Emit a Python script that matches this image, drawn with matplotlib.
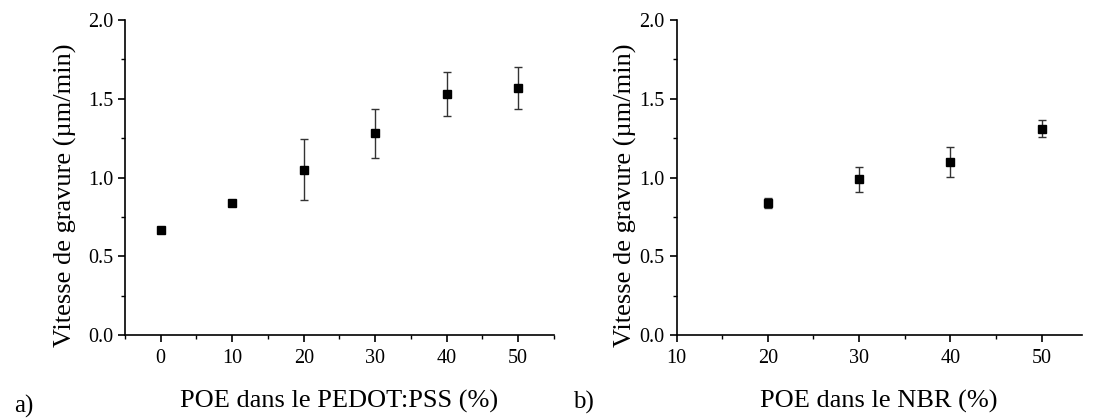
import matplotlib
matplotlib.use("Agg")
import matplotlib.pyplot as plt
from matplotlib.ticker import MultipleLocator

# panel a) POE in PEDOT:PSS
poe_pedot = [0, 10, 20, 30, 40, 50]
rate_pedot = [0.67, 0.84, 1.05, 1.28, 1.53, 1.57]
err_pedot = [0.0, 0.0, 0.195, 0.153, 0.14, 0.133]

# panel b) POE in NBR
poe_nbr = [20, 30, 40, 50]
rate_nbr = [0.838, 0.99, 1.10, 1.31]
err_nbr = [0.03, 0.08, 0.095, 0.055]

plt.rcParams['font.family'] = ['Liberation Serif', 'DejaVu Serif']

fig = plt.figure(figsize=(11.1, 4.19), dpi=100)
ax1 = fig.add_axes([0.1126, 0.2005, 0.3864, 0.7515])
ax2 = fig.add_axes([0.6096, 0.2005, 0.3649, 0.7515])


def style(ax, xlim, xlabel, ylab_x):
    ax.set_xlim(*xlim)
    ax.set_ylim(0, 2.0)
    ax.spines['top'].set_visible(False)
    ax.spines['right'].set_visible(False)
    for s in ('left', 'bottom'):
        ax.spines[s].set_linewidth(1.2)
    ax.xaxis.set_major_locator(MultipleLocator(10))
    ax.xaxis.set_minor_locator(MultipleLocator(5))
    ax.yaxis.set_major_locator(MultipleLocator(0.5))
    ax.yaxis.set_minor_locator(MultipleLocator(0.25))
    ax.yaxis.set_major_formatter(plt.FormatStrFormatter('%.1f'))
    ax.tick_params(which='major', direction='out', length=5, width=1.2, labelsize=14.5)
    ax.tick_params(axis='x', which='major', pad=5)
    ax.tick_params(which='minor', direction='out', length=3, width=1.0)
    ax.set_xlabel(xlabel, fontsize=19, labelpad=16)
    ax.set_ylabel('Vitesse de gravure (µm/min)', fontsize=19)
    # label sits a bit below the axis centre, as in the original
    ax.yaxis.set_label_coords(ylab_x, 0.445)


ax1.errorbar(poe_pedot, rate_pedot, yerr=err_pedot, fmt='s', color='black',
             ecolor='#333333', elinewidth=1.0, capsize=3, capthick=1.0, markersize=5.5)
style(ax1, (-5, 55), 'POE dans le PEDOT:PSS (%)', -0.112)

ax2.errorbar(poe_nbr, rate_nbr, yerr=err_nbr, fmt='s', color='black',
             ecolor='#333333', elinewidth=1.0, capsize=3, capthick=1.0, markersize=5.5)
style(ax2, (10, 54.4), 'POE dans le NBR (%)', -0.098)

fig.text(0.013, 0.015, 'a)', fontsize=18)
fig.text(0.516, 0.025, 'b)', fontsize=18)

fig.savefig('out.png', dpi=100)
